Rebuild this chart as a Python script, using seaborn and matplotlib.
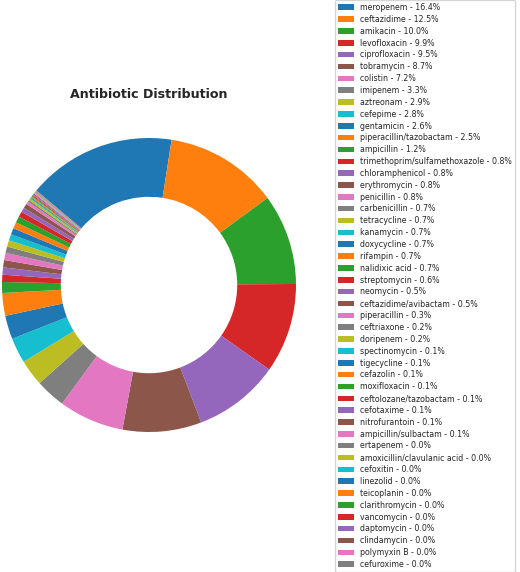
import matplotlib
matplotlib.use('Agg')
import matplotlib.pyplot as plt
import seaborn as sns

# antibiotic names and share (%)
antibiotics = [
    'meropenem', 'ceftazidime', 'amikacin', 'levofloxacin', 'ciprofloxacin',
    'tobramycin', 'colistin', 'imipenem', 'aztreonam', 'cefepime',
    'gentamicin', 'piperacillin/tazobactam', 'ampicillin',
    'trimethoprim/sulfamethoxazole', 'chloramphenicol', 'erythromycin',
    'penicillin', 'carbenicillin', 'tetracycline', 'kanamycin', 'doxycycline',
    'rifampin', 'nalidixic acid', 'streptomycin', 'neomycin',
    'ceftazidime/avibactam', 'piperacillin', 'ceftriaxone', 'doripenem',
    'spectinomycin', 'tigecycline', 'cefazolin', 'moxifloxacin',
    'ceftolozane/tazobactam', 'cefotaxime', 'nitrofurantoin',
    'ampicillin/sulbactam', 'ertapenem', 'amoxicillin/clavulanic acid',
    'cefoxitin', 'linezolid', 'teicoplanin', 'clarithromycin', 'vancomycin',
    'daptomycin', 'clindamycin', 'polymyxin B', 'cefuroxime',
]
shares = [
    16.4, 12.5, 10.0, 9.9, 9.5,
    8.7, 7.2, 3.3, 2.9, 2.8,
    2.6, 2.5, 1.2,
    0.8, 0.8, 0.8,
    0.8, 0.7, 0.7, 0.7, 0.7,
    0.7, 0.7, 0.6, 0.5,
    0.5, 0.3, 0.2, 0.2,
    0.1, 0.1, 0.1, 0.1,
    0.1, 0.1, 0.1,
    0.1, 0.04, 0.04,
    0.04, 0.03, 0.03, 0.03, 0.03,
    0.02, 0.02, 0.02, 0.02,
]

sns.set_style('white')
colors = sns.color_palette('tab10', 10)

fig = plt.figure(figsize=(5.2, 5.72), dpi=100)
ax = fig.add_axes([2 / 520, 140 / 572, 294 / 520, 294 / 572])

wedges, _ = ax.pie(shares, colors=colors, startangle=140, counterclock=False,
                   wedgeprops=dict(width=0.4, edgecolor='none', linewidth=0))
ax.set_xlim(-1, 1)
ax.set_ylim(-1, 1)
ax.set_aspect('equal')
ax.set_title('Antibiotic Distribution', fontsize=9.1, fontweight='bold', pad=29)

labels = [f'{a} - {s:.1f}%' for a, s in zip(antibiotics, shares)]
fig.legend(wedges, labels, loc='center left', bbox_to_anchor=(335 / 520, 0.5),
           bbox_transform=fig.transFigure, borderaxespad=0, fontsize=5.7,
           labelspacing=0.36, borderpad=0.4, handletextpad=0.8, frameon=True)

fig.savefig('out.png', dpi=100)
